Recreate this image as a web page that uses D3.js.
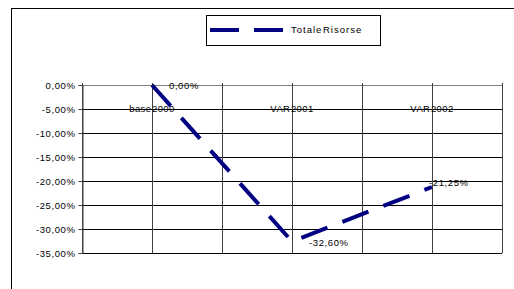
<!DOCTYPE html>
<html>
<head>
<meta charset="utf-8">
<script src="https://cdn.jsdelivr.net/npm/d3@7"></script>
<style>
  body { margin: 0; background: #fff; }
  svg { display: block; font-family: "Liberation Sans", Arial, sans-serif; }
</style>
</head>
<body>
<svg id="chart" width="514" height="289"></svg>
<script>
// data
const categories = ["base 2000", "VAR 2001", "VAR 2002"];
const seriesName = "Totale Risorse";
const values = [0, -0.326, -0.2125];
const yTicks = [0, -0.05, -0.10, -0.15, -0.20, -0.25, -0.30, -0.35];

const it = d3.formatLocale({decimal: ",", thousands: ".", grouping: [3], currency: ["", "€"], minus: "-"});
const pct = it.format(".2%");

const plot = {left: 82, right: 502, top: 85, bottom: 253};
const navy = "#000080";

const svg = d3.select("#chart");

// outer chart frame (runs off the right/bottom edge)
svg.append("rect")
   .attr("x", 11.5).attr("y", 8.5)
   .attr("width", 520).attr("height", 300)
   .attr("fill", "#fff")
   .attr("stroke", "#000");

const x = d3.scaleBand().domain(categories).range([plot.left, plot.right]);
const y = d3.scaleLinear().domain([-0.35, 0]).range([plot.bottom, plot.top]);
const cx = d => x(d) + x.bandwidth() / 2;

// horizontal gridlines
svg.append("g")
   .selectAll("line")
   .data(yTicks)
   .join("line")
   .attr("x1", plot.left).attr("x2", plot.right)
   .attr("y1", d => Math.round(y(d)) + 0.5)
   .attr("y2", d => Math.round(y(d)) + 0.5)
   .attr("stroke", d => d === 0 ? "#808080" : "#000")
   .attr("stroke-width", 1);

// vertical gridlines: band edges and band centres
const vx = [];
categories.forEach(c => { vx.push(x(c)); vx.push(cx(c)); });
vx.push(plot.right);
svg.append("g")
   .selectAll("line")
   .data(vx)
   .join("line")
   .attr("x1", d => Math.round(d) + 0.5).attr("x2", d => Math.round(d) + 0.5)
   .attr("y1", plot.top - 2).attr("y2", plot.bottom)
   .attr("stroke", "#404040");

// y axis
const yAxis = svg.append("g")
   .attr("transform", `translate(${plot.left + 0.5},0)`)
   .call(d3.axisLeft(y).tickValues(yTicks).tickFormat(pct).tickSize(4).tickPadding(3));
yAxis.select(".domain").attr("stroke", "#404040");
yAxis.selectAll(".tick line").attr("stroke", "#404040");
yAxis.selectAll("text")
     .attr("fill", "#000")
     .attr("font-size", "9.5px")
     .attr("font-family", "Liberation Sans, Arial, sans-serif")
     .attr("letter-spacing", "0.6px");

// category labels (sit just under the 0 axis)
svg.append("g")
   .selectAll("text")
   .data(categories)
   .join("text")
   .attr("x", d => cx(d))
   .attr("y", y(-0.05))
   .attr("dy", "0.35em")
   .attr("text-anchor", "middle")
   .attr("font-size", "9.5px")
   .attr("letter-spacing", "0.4px")
   .attr("word-spacing", "-2.5px")
   .text(d => d);

// series line
const pts = categories.map((c, i) => ({c, v: values[i]}));
const line = d3.line().x(d => cx(d.c)).y(d => y(d.v));
svg.append("path")
   .datum(pts)
   .attr("d", line)
   .attr("fill", "none")
   .attr("stroke", navy)
   .attr("stroke-width", 4)
   .attr("stroke-dasharray", "28,16");

// data labels
svg.append("g")
   .selectAll("text")
   .data(pts)
   .join("text")
   .attr("x", (d, i) => i === pts.length - 1 ? cx(d.c) - 3 : cx(d.c) + 17)
   .attr("y", (d, i) => i === pts.length - 1 ? y(d.v) - 4 : y(d.v) + 1)
   .attr("dy", "0.35em")
   .attr("font-size", "9.5px")
   .attr("letter-spacing", "0.6px")
   .text(d => pct(d.v));

// legend
const lg = svg.append("g");
lg.append("rect")
  .attr("x", 206.5).attr("y", 15.5)
  .attr("width", 174).attr("height", 30)
  .attr("fill", "#fff")
  .attr("stroke", "#000");
lg.append("line")
  .attr("x1", 210).attr("x2", 283)
  .attr("y1", 30).attr("y2", 30)
  .attr("stroke", navy)
  .attr("stroke-width", 4)
  .attr("stroke-dasharray", "29,15");
lg.append("text")
  .attr("x", 291).attr("y", 30)
  .attr("dy", "0.35em")
  .attr("font-size", "9.5px")
  .attr("letter-spacing", "1px")
  .attr("word-spacing", "-3px")
  .text(seriesName);
</script>
</body>
</html>
